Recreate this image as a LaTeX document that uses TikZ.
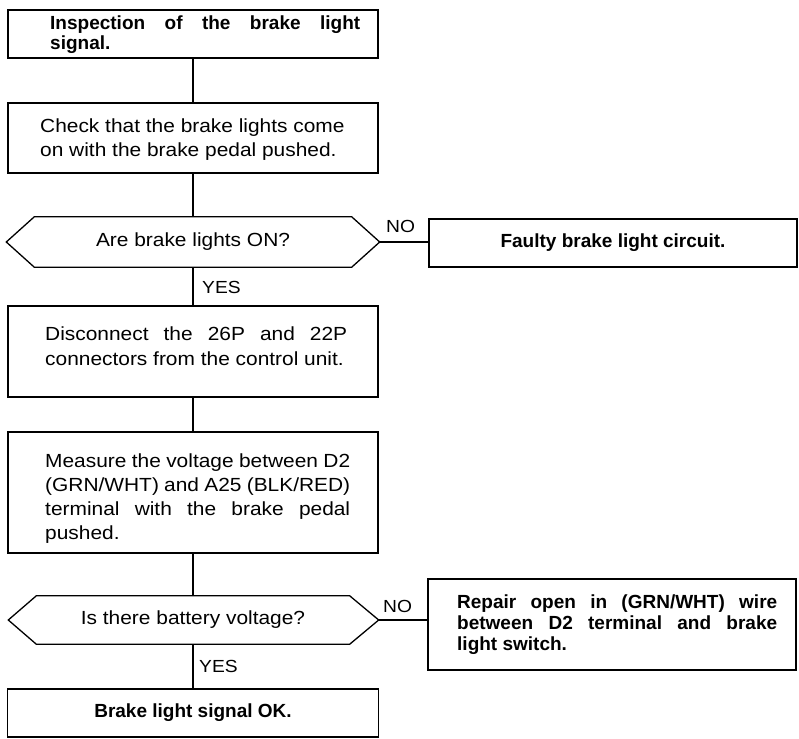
\documentclass[tikz,border=0pt]{standalone}
\usepackage{fontspec}
\setmainfont{Liberation Sans}[FakeStretch=1.1]
\newfontfamily\headfont{Liberation Sans}
\usetikzlibrary{calc}

\tikzset{
  box/.style={draw, rectangle, inner sep=0pt, line width=1.3pt},
  cond/.style={rectangle, inner sep=0pt, font=\fontsize{19}{24}\selectfont},
  condedge/.style={draw, line width=1.3pt, line join=miter},
  link/.style={draw, line width=1.3pt},
  % multi-line texts are placed by the baseline of their last line
  txt/.style={inner sep=0pt, anchor=base west, align=left, font=\fontsize{19}{24}\selectfont},
  btxt/.style={inner sep=0pt, anchor=base west, align=left, font=\headfont\bfseries\fontsize{19}{20}\selectfont},
  btxtc/.style={inner sep=0pt, font=\headfont\bfseries\fontsize{19}{20}\selectfont},
  lbl/.style={inner sep=0pt, anchor=base west, font=\fontsize{17.5}{20}\selectfont},
}

\begin{document}
\begin{tikzpicture}[x=1pt, y=-1pt]
\fill[white] (0,0) rectangle (799,738);
\useasboundingbox (0,0) rectangle (799,738);

% main column of steps
\node[box, minimum width=370pt, minimum height=48pt]  (b1) at (193,34) {};
\node[box, minimum width=370pt, minimum height=70pt]  (b2) at (193,138) {};
\node[cond, minimum width=317pt, minimum height=50pt] (d1) at (193,242) {Are brake lights ON?};
\node[box, minimum width=370pt, minimum height=91pt]  (b3) at (193,351.5) {};
\node[box, minimum width=370pt, minimum height=121pt] (b4) at (193,492.5) {};
\node[cond, minimum width=313pt, minimum height=48pt] (d2) at (193,620) {Is there battery voltage?};
\node[box, btxtc, minimum width=371pt, minimum height=48pt] (e1) at (193,713) {Brake light signal OK.};

% side results
\node[box, btxtc, minimum width=368pt, minimum height=48pt] (f1) at (613,243) {Faulty brake light circuit.};
\node[box, minimum width=368pt, minimum height=91pt] (r1) at (612,624.5) {};

% texts of the steps
\node[btxt] (t1) at (50,50) {\makebox[310pt][s]{Inspection of the brake light}\\signal.};
\node[txt] (t2) at (40,157) {Check that the brake lights come\\on with the brake pedal pushed.};
\node[txt, font=\fontsize{19}{25}\selectfont] (t3) at (45,365) {\makebox[302pt][s]{Disconnect the 26P and 22P}\\connectors from the control unit.};
\node[txt] (t4) at (45,539) {\makebox[305pt][s]{Measure the voltage between D2}\\\makebox[305pt][s]{(GRN/WHT) and A25 (BLK/RED)}\\\makebox[305pt][s]{terminal with the brake pedal}\\pushed.};
\node[btxt, font=\headfont\bfseries\fontsize{19}{21}\selectfont] (tr) at (457,650) {\makebox[320pt][s]{Repair open in (GRN/WHT) wire}\\\makebox[320pt][s]{between D2 terminal and brake}\\light switch.};

% decision outlines
\draw[condedge] (d1.north west) -- ($(d1.west)+(-28,0)$) -- (d1.south west) -- (d1.south east) -- ($(d1.east)+(28,0)$) -- (d1.north east) -- cycle;
\draw[condedge] (d2.north west) -- ($(d2.west)+(-28,0)$) -- (d2.south west) -- (d2.south east) -- ($(d2.east)+(29,0)$) -- (d2.north east) -- cycle;
\coordinate (d1r) at ($(d1.east)+(28,0)$);
\coordinate (d2r) at ($(d2.east)+(29,0)$);

% connectors
\draw[link] (b1.south) -- (b2.north);
\draw[link] (b2.south) -- (d1.north);
\draw[link] (d1.south) -- (b3.north);
\draw[link] (b3.south) -- (b4.north);
\draw[link] (b4.south) -- (d2.north);
\draw[link] (d2.south) -- (e1.north);
\draw[link] (d1r) -- (d1r -| f1.west);
\draw[link] (d2r) -- (d2r -| r1.west);

% branch labels
\node[lbl] (n1) at (386,232) {NO};
\node[lbl] (y1) at (202,293) {YES};
\node[lbl] (n2) at (383,612) {NO};
\node[lbl] (y2) at (199,672) {YES};
\end{tikzpicture}
\end{document}
